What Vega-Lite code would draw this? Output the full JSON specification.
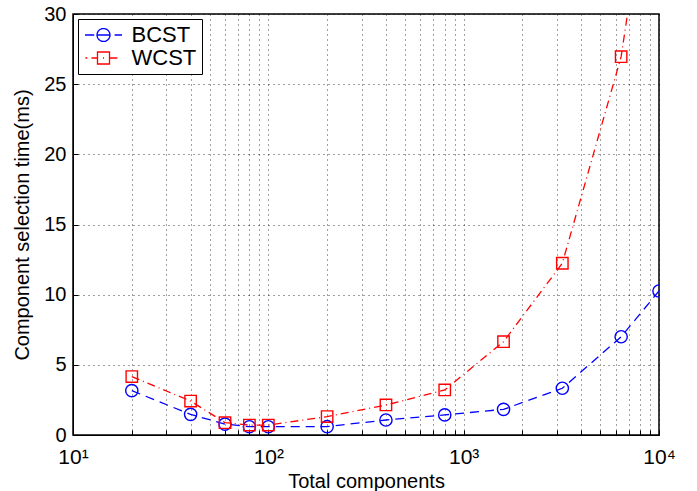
{
  "$schema": "https://vega.github.io/schema/vega-lite/v6.json",
  "width": 586,
  "height": 421,
  "autosize": {"type": "none"},
  "padding": {"left": 73, "top": 14, "right": 38, "bottom": 56},
  "background": "white",
  "config": {
    "view": {"stroke": "black", "strokeWidth": 1.5},
    "font": "Liberation Sans",
    "axis": {
      "domainColor": "black",
      "tickColor": "black",
      "labelColor": "black",
      "titleColor": "black",
      "titleFontWeight": "normal",
      "grid": true,
      "gridColor": "#000000",
      "gridOpacity": 0.75,
      "gridDash": [1, 4],
      "gridWidth": 1,
      "tickSize": -5,
      "labelFont": "Liberation Sans",
      "titleFont": "Liberation Sans"
    },
    "legend": {
      "title": null,
      "orient": "top-left",
      "offset": 5,
      "padding": 5,
      "strokeColor": "black",
      "fillColor": "white",
      "labelFontSize": 22,
      "labelFont": "Liberation Sans",
      "labelColor": "black",
      "symbolSize": 342,
      "symbolOffset": 9.5,
      "labelOffset": 17,
      "rowPadding": 1,
      "symbolStrokeWidth": 1.3,
      "symbolFillColor": "transparent"
    }
  },
  "data": {
    "values": [
      {"n": 20, "series": "BCST", "t": 3.16},
      {"n": 40, "series": "BCST", "t": 1.47},
      {"n": 60, "series": "BCST", "t": 0.78},
      {"n": 80, "series": "BCST", "t": 0.59},
      {"n": 100, "series": "BCST", "t": 0.59},
      {"n": 200, "series": "BCST", "t": 0.6},
      {"n": 400, "series": "BCST", "t": 1.07},
      {"n": 800, "series": "BCST", "t": 1.43},
      {"n": 1600, "series": "BCST", "t": 1.83},
      {"n": 3200, "series": "BCST", "t": 3.33},
      {"n": 6400, "series": "BCST", "t": 7.0},
      {"n": 10000, "series": "BCST", "t": 10.26},
      {"n": 20, "series": "WCST", "t": 4.16},
      {"n": 40, "series": "WCST", "t": 2.42},
      {"n": 60, "series": "WCST", "t": 0.88},
      {"n": 80, "series": "WCST", "t": 0.71},
      {"n": 100, "series": "WCST", "t": 0.71},
      {"n": 200, "series": "WCST", "t": 1.31},
      {"n": 400, "series": "WCST", "t": 2.14},
      {"n": 800, "series": "WCST", "t": 3.21},
      {"n": 1600, "series": "WCST", "t": 6.65},
      {"n": 3200, "series": "WCST", "t": 12.24},
      {"n": 6400, "series": "WCST", "t": 26.96},
      {"n": 10000, "series": "WCST", "t": 45}
    ]
  },
  "encoding": {
    "x": {
      "field": "n",
      "type": "quantitative",
      "scale": {"type": "log", "domain": [10, 10000], "nice": false},
      "axis": {
        "values": [10, 20, 30, 40, 50, 60, 70, 80, 90, 100, 200, 300, 400, 500, 600, 700, 800, 900, 1000, 2000, 3000, 4000, 5000, 6000, 7000, 8000, 9000, 10000],
        "labelExpr": "datum.value == 10 ? '10¹' : datum.value == 100 ? '10²' : datum.value == 1000 ? '10³' : datum.value == 10000 ? '10⁴' : ''",
        "labelOverlap": false,
        "labelFlush": false,
        "labelFontSize": 21,
        "labelPadding": 16,
        "title": "Total components",
        "titleFontSize": 20,
        "titlePadding": 4
      }
    },
    "y": {
      "field": "t",
      "type": "quantitative",
      "scale": {"domain": [0, 30], "nice": false},
      "axis": {
        "values": [0, 5, 10, 15, 20, 25, 30],
        "labelFontSize": 20,
        "labelPadding": 12,
        "title": "Component selection time(ms)",
        "titleFontSize": 20,
        "titlePadding": 11
      }
    },
    "color": {
      "field": "series",
      "type": "nominal",
      "scale": {"domain": ["BCST", "WCST"], "range": ["#0000ff", "#ff0000"]},
      "legend": {
        "encoding": {
          "symbols": {
            "shape": {
              "condition": {"test": "datum.value === 'BCST'", "value": "M-2,0H-1M1.2,0H2M-0.7,0H0.7M-0.7,0A0.7,0.7 0 1,1 0.7,0A0.7,0.7 0 1,1 -0.7,0"},
              "value": "M-1.95,0H-1.75M-1.3,0H-0.65M0.65,0H1.5M-0.65,-0.65H0.65V0.65H-0.65ZM-0.06,0H0.06"
            },
            "fill": {"value": "transparent"},
            "strokeDash": {"value": [1, 0]}
          }
        }
      }
    }
  },
  "layer": [
    {
      "transform": [{"filter": "datum.series === 'BCST'"}],
      "mark": {"type": "line", "clip": true, "strokeWidth": 1.3, "strokeDash": [9, 6]}
    },
    {
      "transform": [{"filter": "datum.series === 'WCST'"}],
      "mark": {"type": "line", "clip": true, "strokeWidth": 1.3, "strokeDash": [8, 4, 1, 4]}
    },
    {
      "transform": [{"filter": "datum.series === 'BCST'"}],
      "mark": {"type": "point", "shape": "circle", "clip": true, "filled": false, "strokeWidth": 1.4, "size": 150, "opacity": 1}
    },
    {
      "transform": [{"filter": "datum.series === 'WCST'"}],
      "mark": {"type": "point", "shape": "square", "clip": true, "filled": false, "strokeWidth": 1.4, "size": 130, "opacity": 1}
    }
  ]
}
